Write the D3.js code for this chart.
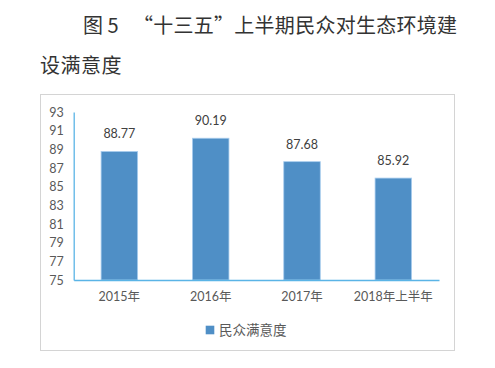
<!DOCTYPE html>
<html><head><meta charset="utf-8">
<script src="https://cdn.jsdelivr.net/npm/d3@7/dist/d3.min.js"></script>
<style>body{margin:0;background:#fff}svg{display:block}</style>
</head><body>
<svg id="c" width="495" height="368"></svg>
<script>
const categories = ["2015年", "2016年", "2017年", "2018年上半年"];
const values = [88.77, 90.19, 87.68, 85.92];
const yTicks = [75, 77, 79, 81, 83, 85, 87, 89, 91, 93];
const seriesName = "民众满意度";
const titleLine1a = "图 5";
const titleLine1b = "“十三五”上半期民众对生态环境建";
const titleLine2 = "设满意度";

const svg = d3.select("#c");
const cjk = "'Noto Sans CJK SC', sans-serif";
const num = "Lato, 'Noto Sans CJK SC', sans-serif";

// title
svg.append("text").attr("x", 83).attr("y", 33).attr("font-family", cjk).attr("font-size", 20)
  .attr("fill", "#333").text(titleLine1a);
svg.append("text").attr("x", 133).attr("y", 33).attr("font-family", cjk).attr("font-size", 20)
  .attr("fill", "#333").attr("textLength", 324).attr("lengthAdjust", "spacing").text(titleLine1b);
svg.append("text").attr("x", 40).attr("y", 73).attr("font-family", cjk).attr("font-size", 20)
  .attr("fill", "#333").attr("letter-spacing", 0.5).text(titleLine2);

// frame
svg.append("rect").attr("x", 40.5).attr("y", 94.5).attr("width", 414).attr("height", 256)
  .attr("fill", "none").attr("stroke", "#d4d4d4").attr("stroke-width", 1);

const x0 = 73.7, x1 = 439, yTop = 112, yBot = 280;
const x = d3.scaleBand().domain(categories).range([x0, x1]).paddingInner(0.6).paddingOuter(0.3);
const y = d3.scaleLinear().domain([75, 93]).range([yBot, yTop]);

// y axis
const ya = svg.append("g").attr("transform", `translate(${x0},0)`)
  .call(d3.axisLeft(y).tickValues(yTicks).tickSize(0).tickPadding(10));
ya.select(".domain").attr("stroke", "#5ab4e6").attr("stroke-width", 1.3);
ya.selectAll("text").attr("font-family", num).attr("font-size", 12.5).attr("fill", "#595959");

// bars
svg.append("g").selectAll("rect").data(values).join("rect")
  .attr("x", (d, i) => x(categories[i]))
  .attr("y", d => y(d))
  .attr("width", x.bandwidth())
  .attr("height", d => yBot - y(d))
  .attr("fill", "#4f8fc6")
  .attr("stroke", "#a9cdee").attr("stroke-width", 0.8);

// value labels
svg.append("g").selectAll("text").data(values).join("text")
  .attr("x", (d, i) => x(categories[i]) + x.bandwidth() / 2)
  .attr("y", d => y(d) - 13)
  .attr("text-anchor", "middle")
  .attr("font-family", num).attr("font-size", 12.5).attr("fill", "#404040")
  .text(d => d.toFixed(2));

// x axis
const xa = svg.append("g").attr("transform", `translate(0,${yBot})`)
  .call(d3.axisBottom(x).tickSize(0).tickPadding(12));
xa.select(".domain").attr("stroke", "#5ab4e6").attr("stroke-width", 1.3);
xa.selectAll("text").attr("font-family", num).attr("font-size", 12.5).attr("fill", "#595959");

// legend
svg.append("rect").attr("x", 205.7).attr("y", 325.7).attr("width", 8.6).attr("height", 8.6).attr("fill", "#4f8fc6");
svg.append("text").attr("x", 219).attr("y", 334.8).attr("font-family", cjk).attr("font-size", 13.5)
  .attr("fill", "#595959").text(seriesName);
</script>
</body></html>
